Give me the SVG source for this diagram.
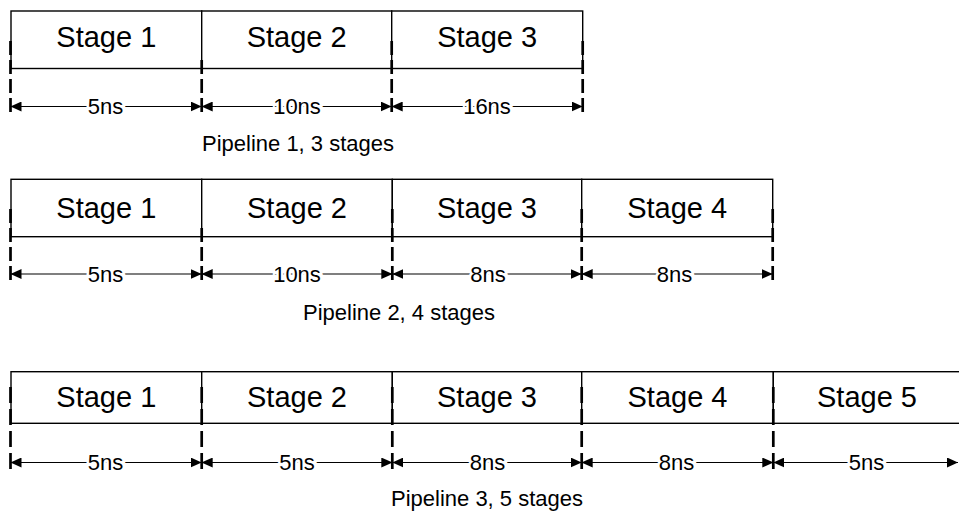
<svg xmlns="http://www.w3.org/2000/svg" width="959" height="515" viewBox="0 0 959 515">
  <defs>
    <marker id="head" viewBox="0 0 11 10" refX="11" refY="5" markerWidth="11" markerHeight="10" markerUnits="userSpaceOnUse" orient="auto-start-reverse">
      <path d="M0,0 L11,5 L0,10 z" fill="#000"/>
    </marker>
    <style>
      .stage rect { fill: #fff; stroke: #000; stroke-width: 1.4; }
      .stage text { font-family: "Liberation Sans", Arial, sans-serif; font-size: 29px; text-anchor: middle; fill: #000; }
      .guide { stroke: #000; stroke-width: 2.7; fill: none; }
      .p1 .guide, .p2 .guide { stroke-dasharray: 14 5; }
      .p3 .guide { stroke-dasharray: 16 6; }
      .dim { stroke: #000; stroke-width: 1.2; fill: none; marker-start: url(#head); marker-end: url(#head); }
      .dimlabel { font-family: "Liberation Sans", Arial, sans-serif; font-size: 22px; text-anchor: middle; fill: #000; stroke: #fff; stroke-width: 5; paint-order: stroke; }
      .caption { font-family: "Liberation Sans", Arial, sans-serif; font-size: 22px; text-anchor: middle; fill: #000; }
    </style>
  </defs>
  <rect width="959" height="515" fill="#fff"/>

  <!-- Pipeline 1: three stages -->
  <g id="p1-stage1" class="stage"><rect x="11" y="11" width="190.7" height="57.5"/><text x="106.3" y="47">Stage 1</text></g>
  <g id="p1-stage2" class="stage"><rect x="201.7" y="11" width="190" height="57.5"/><text x="296.7" y="47">Stage 2</text></g>
  <g id="p1-stage3" class="stage"><rect x="391.7" y="11" width="191" height="57.5"/><text x="487.2" y="47">Stage 3</text></g>

  <!-- Pipeline 2: four stages -->
  <g id="p2-stage1" class="stage"><rect x="11" y="179.3" width="190.7" height="57.4"/><text x="106.3" y="218">Stage 1</text></g>
  <g id="p2-stage2" class="stage"><rect x="201.7" y="179.3" width="190.6" height="57.4"/><text x="297" y="218">Stage 2</text></g>
  <g id="p2-stage3" class="stage"><rect x="392.3" y="179.3" width="189.4" height="57.4"/><text x="487" y="218">Stage 3</text></g>
  <g id="p2-stage4" class="stage"><rect x="581.7" y="179.3" width="191" height="57.4"/><text x="677.2" y="218">Stage 4</text></g>

  <!-- Pipeline 3: five stages -->
  <g id="p3-stage1" class="stage"><rect x="11" y="371.7" width="190.7" height="51.6"/><text x="106.3" y="407">Stage 1</text></g>
  <g id="p3-stage2" class="stage"><rect x="201.7" y="371.7" width="190.6" height="51.6"/><text x="297" y="407">Stage 2</text></g>
  <g id="p3-stage3" class="stage"><rect x="392.3" y="371.7" width="189.4" height="51.6"/><text x="487" y="407">Stage 3</text></g>
  <g id="p3-stage4" class="stage"><rect x="581.7" y="371.7" width="191.6" height="51.6"/><text x="677.5" y="407">Stage 4</text></g>
  <g id="p3-stage5" class="stage"><rect x="773.3" y="371.7" width="195" height="51.6"/><text x="867" y="407">Stage 5</text></g>

  <!-- Timing guides and dimension arrows -->
  <g id="connectors">
    <g class="p1">
      <line class="guide" x1="10.5" y1="41" x2="10.5" y2="117"/>
      <line class="guide" x1="201.7" y1="60" x2="201.7" y2="112"/>
      <line class="guide" x1="391.7" y1="41" x2="391.7" y2="112"/>
      <line class="guide" x1="582.7" y1="41" x2="582.7" y2="112"/>
      <line class="dim" x1="10.5" y1="106.5" x2="201.7" y2="106.5"/>
      <line class="dim" x1="201.7" y1="106.5" x2="391.7" y2="106.5"/>
      <line class="dim" x1="391.7" y1="106.5" x2="582.7" y2="106.5"/>
    </g>
    <g class="p2">
      <line class="guide" x1="10.5" y1="209" x2="10.5" y2="284"/>
      <line class="guide" x1="201.7" y1="228" x2="201.7" y2="280"/>
      <line class="guide" x1="392.3" y1="209" x2="392.3" y2="280"/>
      <line class="guide" x1="581.7" y1="209" x2="581.7" y2="280"/>
      <line class="guide" x1="772.7" y1="209" x2="772.7" y2="280"/>
      <line class="dim" x1="10.5" y1="274" x2="201.7" y2="274"/>
      <line class="dim" x1="201.7" y1="274" x2="392.3" y2="274"/>
      <line class="dim" x1="392.3" y1="274" x2="581.7" y2="274"/>
      <line class="dim" x1="581.7" y1="274" x2="772.7" y2="274"/>
    </g>
    <g class="p3">
      <line class="guide" x1="10.5" y1="387" x2="10.5" y2="473"/>
      <line class="guide" x1="201.7" y1="387" x2="201.7" y2="469"/>
      <line class="guide" x1="392.3" y1="387" x2="392.3" y2="469"/>
      <line class="guide" x1="581.7" y1="387" x2="581.7" y2="469"/>
      <line class="guide" x1="773.3" y1="387" x2="773.3" y2="469"/>
      <line class="dim" x1="10.5" y1="462.5" x2="201.7" y2="462.5"/>
      <line class="dim" x1="201.7" y1="462.5" x2="392.3" y2="462.5"/>
      <line class="dim" x1="392.3" y1="462.5" x2="581.7" y2="462.5"/>
      <line class="dim" x1="581.7" y1="462.5" x2="773.3" y2="462.5"/>
      <line class="dim" x1="773.3" y1="462.5" x2="958" y2="462.5"/>
    </g>
  </g>

  <!-- Stage latencies -->
  <g id="latencies">
    <text class="dimlabel" x="105.5" y="114">5ns</text>
    <text class="dimlabel" x="297" y="114">10ns</text>
    <text class="dimlabel" x="487" y="114">16ns</text>

    <text class="dimlabel" x="105.5" y="281.5">5ns</text>
    <text class="dimlabel" x="297" y="281.5">10ns</text>
    <text class="dimlabel" x="488" y="281.5">8ns</text>
    <text class="dimlabel" x="674.5" y="281.5">8ns</text>

    <text class="dimlabel" x="105.5" y="470">5ns</text>
    <text class="dimlabel" x="297" y="470">5ns</text>
    <text class="dimlabel" x="487.5" y="470">8ns</text>
    <text class="dimlabel" x="676.5" y="470">8ns</text>
    <text class="dimlabel" x="866.5" y="470">5ns</text>
  </g>

  <!-- Captions -->
  <text class="caption" x="298" y="151">Pipeline 1, 3 stages</text>
  <text class="caption" x="399" y="320">Pipeline 2, 4 stages</text>
  <text class="caption" x="487" y="506">Pipeline 3, 5 stages</text>
</svg>
